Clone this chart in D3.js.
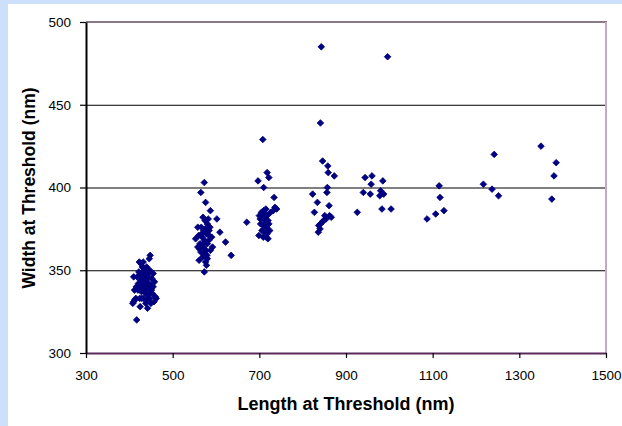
<!DOCTYPE html>
<html>
<head>
<meta charset="utf-8">
<script src="https://cdn.jsdelivr.net/npm/d3@7"></script>
<style>
  body { margin: 0; background: #cce0fc; }
  svg { display: block; }
</style>
</head>
<body>
<div id="chart"></div>
<script>
// length (nm) and width (nm) at threshold
var lengths = [
    417, 425, 442, 410, 408, 412, 415, 412, 410, 423, 427, 448, 446, 434, 430, 460, 450, 455, 458, 452,
    445, 440, 435, 438, 432, 428, 425, 420, 443, 447, 451, 455, 444, 437, 431, 426, 421, 418, 440, 436,
    447, 453, 441, 433, 429, 424, 457, 462, 439, 444, 449, 433, 428, 422, 416, 446, 438, 443, 432, 430,
    573, 565, 576, 587, 602, 609, 622, 635, 573, 558, 553, 562, 569, 576, 578, 584, 590, 587, 570, 575,
    580, 566, 572, 578, 560, 568, 574, 580, 563, 571, 577, 583, 565, 573, 580, 558, 575, 567, 582, 586,
    592, 570, 561, 579, 584,
    708, 718, 722, 697, 710, 734, 671, 699, 720, 740, 732, 736, 705, 710, 715, 700, 708, 713, 718, 703,
    710, 716, 722, 706, 712, 718, 724, 702, 714, 720, 726, 709, 716,
    843, 841, 846, 858, 859, 873, 823, 834, 827, 857, 856, 861, 837, 836, 851, 862, 845, 854, 841, 848,
    866, 840,
    996, 944, 960, 958, 940, 956, 985, 980, 978, 987, 983, 1004, 926,
    1087, 1107, 1126, 1115, 1117, 1217, 1237, 1252, 1242, 1350, 1385, 1380, 1375
];
var widths = [
    320, 328, 327, 331, 330, 332, 333, 338, 346, 355, 354, 359, 357, 351, 349, 334, 330, 348, 343, 345,
    342, 340, 338, 336, 342, 337, 340, 338, 335, 333, 338, 340, 346, 347, 345, 344, 342, 346, 352, 350,
    350, 336, 332, 333, 333, 333, 331, 333, 344, 339, 341, 340, 347, 349, 340, 336, 330, 348, 355, 352,
    403, 397, 391, 386, 381, 373, 367, 359, 349, 376, 369, 363, 358, 355, 353, 374, 370, 362, 382, 380,
    378, 376, 374, 372, 371, 370, 368, 366, 366, 364, 362, 368, 361, 360, 357, 364, 375, 372, 381, 376,
    364, 366, 356, 359, 371,
    429, 409, 406, 404, 400, 394, 379, 371, 369, 387, 386, 388, 385, 386, 387, 383, 382, 380, 383, 378,
    377, 376, 378, 374, 373, 372, 374, 381, 384, 380, 385, 370, 370,
    485, 439, 416, 413, 409, 407, 396, 391, 385, 400, 397, 389, 377, 373, 383, 383, 379, 381, 378, 380,
    382, 375,
    479, 406, 407, 402, 397, 396, 404, 398, 395, 396, 387, 387, 385,
    381, 384, 386, 401, 394, 402, 399, 395, 420, 425, 415, 407, 393
];
var xTicks = [300, 500, 700, 900, 1100, 1300, 1500];
var yTicks = [300, 350, 400, 450, 500];

var W = 622, H = 426;
var plot = { left: 86, right: 606, top: 22, bottom: 353 };
var font = "Liberation Sans, Arial, sans-serif";

var svg = d3.select("#chart").append("svg")
    .attr("width", W)
    .attr("height", H);

// white panel over the light blue page
svg.append("rect")
    .attr("x", 8).attr("y", 4)
    .attr("width", W - 8).attr("height", H - 4)
    .attr("fill", "#ffffff");

var x = d3.scaleLinear().domain([300, 1500]).range([plot.left, plot.right]);
var y = d3.scaleLinear().domain([300, 500]).range([plot.bottom, plot.top]);

// gridlines
svg.append("g")
    .selectAll("line")
    .data(yTicks.filter(function (d) { return d > 300 && d < 500; }))
    .enter().append("line")
    .attr("x1", plot.left).attr("x2", plot.right)
    .attr("y1", function (d) { return y(d) + 0.5; })
    .attr("y2", function (d) { return y(d) + 0.5; })
    .attr("stroke", "#000")
    .attr("stroke-width", 1);

// plot area border (top and right)
svg.append("line")
    .attr("x1", plot.left).attr("x2", plot.right + 1)
    .attr("y1", plot.top).attr("y2", plot.top)
    .attr("stroke", "#8a7a88").attr("stroke-width", 2);
svg.append("line")
    .attr("x1", plot.right).attr("x2", plot.right)
    .attr("y1", plot.top).attr("y2", plot.bottom)
    .attr("stroke", "#c4a8c4").attr("stroke-width", 2);

var xAxis = d3.axisBottom(x).tickValues(xTicks).tickFormat(d3.format("d"))
    .tickSize(5).tickSizeOuter(0).tickPadding(12);
var yAxis = d3.axisLeft(y).tickValues(yTicks).tickFormat(d3.format("d"))
    .tickSize(6).tickSizeOuter(0).tickPadding(9);

var gx = svg.append("g")
    .attr("transform", "translate(0," + plot.bottom + ")")
    .call(xAxis);
gx.select(".domain").attr("stroke", "#5a2a5a").attr("stroke-width", 2);

var gy = svg.append("g")
    .attr("transform", "translate(" + plot.left + ",0)")
    .call(yAxis);
gy.select(".domain").attr("stroke", "#000").attr("stroke-width", 2);

svg.selectAll(".tick text")
    .attr("font-family", font)
    .style("font-size", "13.5px")
    .attr("fill", "#000");
svg.selectAll(".tick line").attr("stroke", "#000").attr("stroke-width", 1.2);

// data points: small navy diamonds
var diamond = "M0,-3.3L3.3,0L0,3.3L-3.3,0Z";
svg.append("g")
    .selectAll("path")
    .data(lengths)
    .enter().append("path")
    .attr("d", diamond)
    .attr("transform", function (d, i) {
        return "translate(" + x(d) + "," + y(widths[i]) + ")";
    })
    .attr("fill", "#000080")
    .attr("stroke", "#000080")
    .attr("stroke-width", 0.8);

// axis titles
svg.append("text")
    .attr("x", 346)
    .attr("y", 410)
    .attr("text-anchor", "middle")
    .attr("font-family", font)
    .attr("font-weight", "bold")
    .style("font-size", "18px")
    .text("Length at Threshold (nm)");

svg.append("text")
    .attr("transform", "translate(35,188) rotate(-90)")
    .attr("text-anchor", "middle")
    .attr("font-family", font)
    .attr("font-weight", "bold")
    .style("font-size", "17.5px")
    .text("Width at Threshold (nm)");
</script>
</body>
</html>
